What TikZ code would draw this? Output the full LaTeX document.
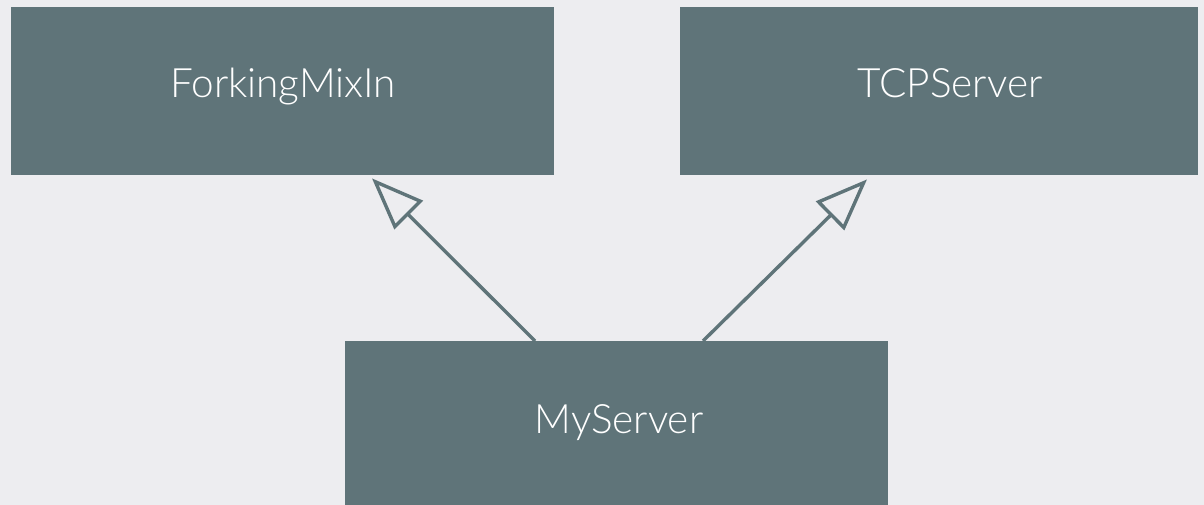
\documentclass[tikz,border=0pt]{standalone}
\usepackage{fontspec}
\setmainfont{Lato Light}
\usetikzlibrary{arrows.meta,calc}
\definecolor{slate}{HTML}{5F7479}
\definecolor{paper}{HTML}{EDEDF0}
\tikzset{
  classbox/.style={fill=slate, draw=none, inner sep=0pt, anchor=north west},
  classname/.style={text=white, font=\fontsize{40.5}{40.5}\selectfont, anchor=base, inner sep=0pt},
  inherits/.style={draw=slate, line width=3.4pt,
    -{Triangle[open, length=52pt, width=40pt, line width=3.4pt]}},
}
\begin{document}
\begin{tikzpicture}[x=1pt, y=-1pt]
  \fill[paper] (0,0) rectangle (1204,505);
  \useasboundingbox (0,0) rectangle (1204,505);

  % class boxes
  \node[classbox, minimum width=543pt, minimum height=168pt] (fm) at (11,7) {};
  \node[classbox, minimum width=518pt, minimum height=168pt] (tcp) at (680,7) {};
  \node[classbox, minimum width=543pt, minimum height=170pt] (my) at (345,341) {};

  % class names
  \node[classname] (fmname) at (283,98) {ForkingMixIn};
  \node[classname] (tcpname) at (950,98) {TCPServer};
  \node[classname] (myname) at (619,433) {MyServer};

  % inheritance arrows
  \coordinate (fromL) at ($(my.north west)+(190,0)$);
  \coordinate (fromR) at ($(my.north west)+(358,0)$);
  \coordinate (toL) at ($(fm.south west)+(361,3)$);
  \coordinate (toR) at ($(tcp.south west)+(187,4)$);
  \draw[inherits] (fromL) -- (toL);
  \draw[inherits] (fromR) -- (toR);
\end{tikzpicture}
\end{document}
